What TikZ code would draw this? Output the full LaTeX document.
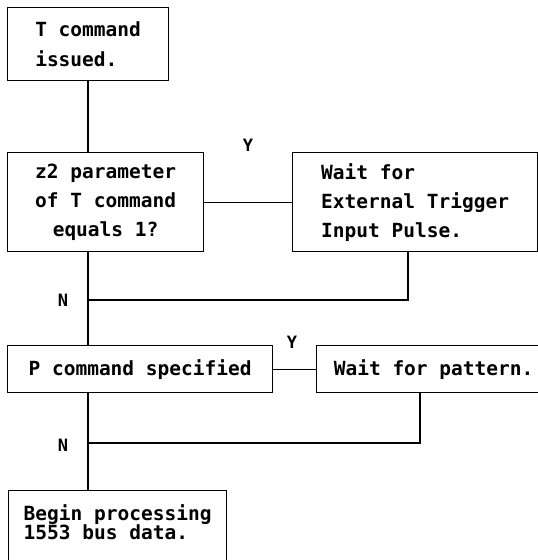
\documentclass[tikz,border=0pt]{standalone}
\usepackage{fontspec}
\usepackage{xcolor}
\usetikzlibrary{positioning}
\newfontfamily\flowfont{DejaVu Sans Mono}
\tikzset{
  box/.style={draw, line width=1.2pt, anchor=north west, inner sep=0pt, align=left},
  flowline/.style={line width=1.2pt},
  yn/.style={font=\flowfont\bfseries\fontsize{17}{17}\selectfont}
}

\begin{document}
\begin{tikzpicture}[x=1pt, y=-1pt]
  % Page frame
  \useasboundingbox (0,0) rectangle (538,560);

  % Start box
  \node[box, minimum width=161pt, minimum height=73pt,
        font=\flowfont\bfseries\fontsize{19.5}{30}\selectfont] (tcmd) at (7,7)
    {T command\\issued.};

  % z2 test and trigger wait
  \node[box, align=center, minimum width=196pt, minimum height=99pt,
        font=\flowfont\bfseries\fontsize{19.5}{29}\selectfont] (ztest) at (7,152)
    {z2 parameter\\of T command\\equals 1?};
  \node[box, minimum width=245pt, minimum height=99pt,
        font=\flowfont\bfseries\fontsize{19.5}{29}\selectfont] (trig) at (292,152)
    {Wait for\\External Trigger\\Input Pulse.};

  % P command test and pattern wait
  \node[box, align=center, minimum width=265pt, minimum height=47pt,
        font=\flowfont\bfseries\fontsize{19.5}{23}\selectfont] (ptest) at (7,345)
    {P command specified};
  \node[box, minimum width=234pt, minimum height=47pt,
        font=\flowfont\bfseries\fontsize{19.5}{23}\selectfont] (pwait) at (316,345)
    {Wait for pattern.};

  % Final box (runs off the page)
  \node[box, minimum width=218pt, minimum height=85pt, text depth=22pt,
        font=\flowfont\bfseries\fontsize{19.5}{19}\selectfont] (begin) at (8,490)
    {Begin processing\\1553 bus data.};

  % Join points
  \coordinate (join1) at (88,300);
  \coordinate (join2) at (88,443);

  % Connectors
  \draw[flowline] (join1 |- tcmd.south) -- (join1 |- ztest.north);
  \draw[flowline] (ztest.east) -- (trig.west);
  \draw[flowline] (join1 |- ztest.south) -- (join1 |- ptest.north);
  \draw[flowline] ([xshift=116pt]trig.south west) |- (join1);
  \draw[flowline] (ptest.east) -- (pwait.west);
  \draw[flowline] (join2 |- ptest.south) -- (join2 |- begin.north);
  \draw[flowline] ([xshift=104pt]pwait.south west) |- (join2);

  % Y / N labels
  \node[yn] (yes1) at (248,145) {Y};
  \node[yn] (no1) at (63,300) {N};
  \node[yn] (yes2) at (292,342) {Y};
  \node[yn] (no2) at (63,445) {N};
\end{tikzpicture}
\end{document}
